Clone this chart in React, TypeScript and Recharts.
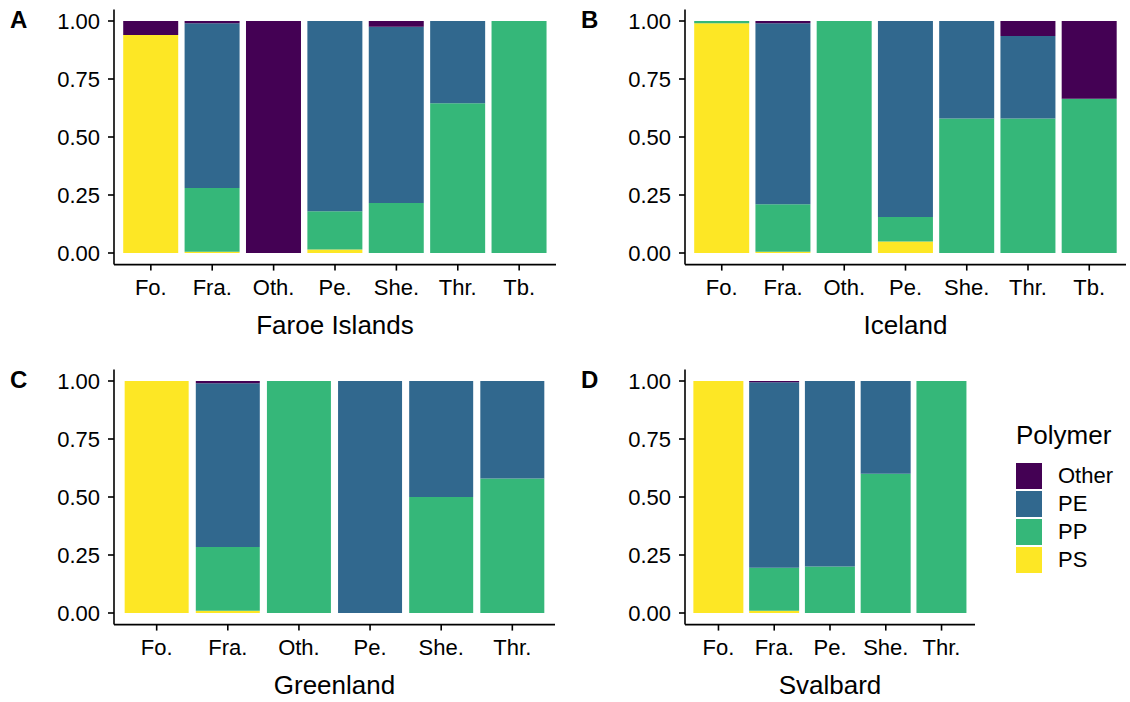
import React from 'react';
import { BarChart, Bar, XAxis, YAxis } from 'recharts';

const FONT = '"Liberation Sans", Arial, Helvetica, sans-serif';

const polymers = ['Other', 'PE', 'PP', 'PS'];
const colors: Record<string, string> = {
  Other: '#440154',
  PE: '#31688E',
  PP: '#35B779',
  PS: '#FDE725',
};
const yTicks = [0, 0.25, 0.5, 0.75, 1];

// Faroe Islands
const faroeCats = ['Fo.', 'Fra.', 'Oth.', 'Pe.', 'She.', 'Thr.', 'Tb.'];
const faroePS = [0.94, 0.005, 0, 0.015, 0, 0, 0];
const faroePP = [0, 0.275, 0, 0.165, 0.215, 0.645, 1];
const faroePE = [0, 0.71, 0, 0.82, 0.76, 0.355, 0];
const faroeOther = [0.06, 0.01, 1, 0, 0.025, 0, 0];

// Iceland
const icelandCats = ['Fo.', 'Fra.', 'Oth.', 'Pe.', 'She.', 'Thr.', 'Tb.'];
const icelandPS = [0.99, 0.005, 0, 0.05, 0, 0, 0];
const icelandPP = [0.01, 0.205, 1, 0.105, 0.58, 0.58, 0.665];
const icelandPE = [0, 0.78, 0, 0.845, 0.42, 0.355, 0];
const icelandOther = [0, 0.01, 0, 0, 0, 0.065, 0.335];

// Greenland
const greenlandCats = ['Fo.', 'Fra.', 'Oth.', 'Pe.', 'She.', 'Thr.'];
const greenlandPS = [1, 0.01, 0, 0, 0, 0];
const greenlandPP = [0, 0.275, 1, 0, 0.5, 0.58];
const greenlandPE = [0, 0.705, 0, 1, 0.5, 0.42];
const greenlandOther = [0, 0.01, 0, 0, 0, 0];

// Svalbard
const svalbardCats = ['Fo.', 'Fra.', 'Pe.', 'She.', 'Thr.'];
const svalbardPS = [1, 0.01, 0, 0, 0];
const svalbardPP = [0, 0.185, 0.2, 0.6, 1];
const svalbardPE = [0, 0.8, 0.8, 0.4, 0];
const svalbardOther = [0, 0.005, 0, 0, 0];

type PanelProps = {
  x: number;
  y: number;
  plotW: number;
  letter: string;
  title: string;
  cats: string[];
  ps: number[];
  pp: number[];
  pe: number[];
  other: number[];
};

function Panel({ x, y, plotW, letter, title, cats, ps, pp, pe, other }: PanelProps) {
  const data = cats.map((cat, i) => ({
    cat,
    PS: ps[i],
    PP: pp[i],
    PE: pe[i],
    Other: other[i],
  }));
  // ggplot discrete expansion: 0.6 units each side, bars 0.9 wide
  const unit = plotW / (cats.length + 0.2);
  const pad = unit * 0.1;
  const axisW = 114;

  return (
    <div style={{ position: 'absolute', left: x, top: y }}>
      <BarChart
        width={axisW + plotW + 4}
        height={360}
        data={data}
        margin={{ top: 9.4, right: 4, bottom: 25.4, left: 0 }}
        barCategoryGap="5%"
      >
        <XAxis
          dataKey="cat"
          interval={0}
          height={70}
          padding={{ left: pad, right: pad }}
          axisLine={{ stroke: '#000', strokeWidth: 1.6 }}
          tickLine={{ stroke: '#000', strokeWidth: 1.6 }}
          tickSize={6}
          tickMargin={9}
          tick={{ fill: '#000', fontSize: 22, fontFamily: FONT }}
          label={{
            value: title,
            position: 'insideBottom',
            offset: 1,
            fill: '#000',
            fontSize: 26,
            fontFamily: FONT,
          }}
        />
        <YAxis
          type="number"
          width={axisW}
          domain={[-0.05, 1.05]}
          ticks={yTicks}
          tickFormatter={(v: number) => v.toFixed(2)}
          axisLine={{ stroke: '#000', strokeWidth: 1.6 }}
          tickLine={{ stroke: '#000', strokeWidth: 1.6 }}
          tickSize={6}
          tickMargin={8}
          tick={{ fill: '#000', fontSize: 22, fontFamily: FONT }}
        />
        {['PS', 'PP', 'PE', 'Other'].map((p) => (
          <Bar key={p} dataKey={p} stackId="a" fill={colors[p]} isAnimationActive={false} />
        ))}
      </BarChart>
      <div
        style={{
          position: 'absolute',
          left: 10,
          top: 8,
          fontFamily: FONT,
          fontWeight: 'bold',
          fontSize: 24,
          lineHeight: '24px',
        }}
      >
        {letter}
      </div>
    </div>
  );
}

function Legend() {
  return (
    <div style={{ position: 'absolute', left: 1016, top: 420, fontFamily: FONT }}>
      <div style={{ fontSize: 26, lineHeight: '30px', marginBottom: 12 }}>Polymer</div>
      {polymers.map((p) => (
        <div key={p} style={{ display: 'flex', alignItems: 'center', height: 28 }}>
          <div style={{ width: 26, height: 26, background: colors[p] }} />
          <div style={{ fontSize: 22, marginLeft: 16 }}>{p}</div>
        </div>
      ))}
    </div>
  );
}

export default function App() {
  return (
    <div
      style={{
        position: 'absolute',
        left: 0,
        top: 0,
        width: 1130,
        height: 702,
        background: '#fff',
        fontFamily: FONT,
      }}
    >
      <Panel
        x={0}
        y={0}
        plotW={442}
        letter="A"
        title="Faroe Islands"
        cats={faroeCats}
        ps={faroePS}
        pp={faroePP}
        pe={faroePE}
        other={faroeOther}
      />
      <Panel
        x={571}
        y={0}
        plotW={441}
        letter="B"
        title="Iceland"
        cats={icelandCats}
        ps={icelandPS}
        pp={icelandPP}
        pe={icelandPE}
        other={icelandOther}
      />
      <Panel
        x={0}
        y={360}
        plotW={441}
        letter="C"
        title="Greenland"
        cats={greenlandCats}
        ps={greenlandPS}
        pp={greenlandPP}
        pe={greenlandPE}
        other={greenlandOther}
      />
      <Panel
        x={571}
        y={360}
        plotW={290}
        letter="D"
        title="Svalbard"
        cats={svalbardCats}
        ps={svalbardPS}
        pp={svalbardPP}
        pe={svalbardPE}
        other={svalbardOther}
      />
      <Legend />
    </div>
  );
}
